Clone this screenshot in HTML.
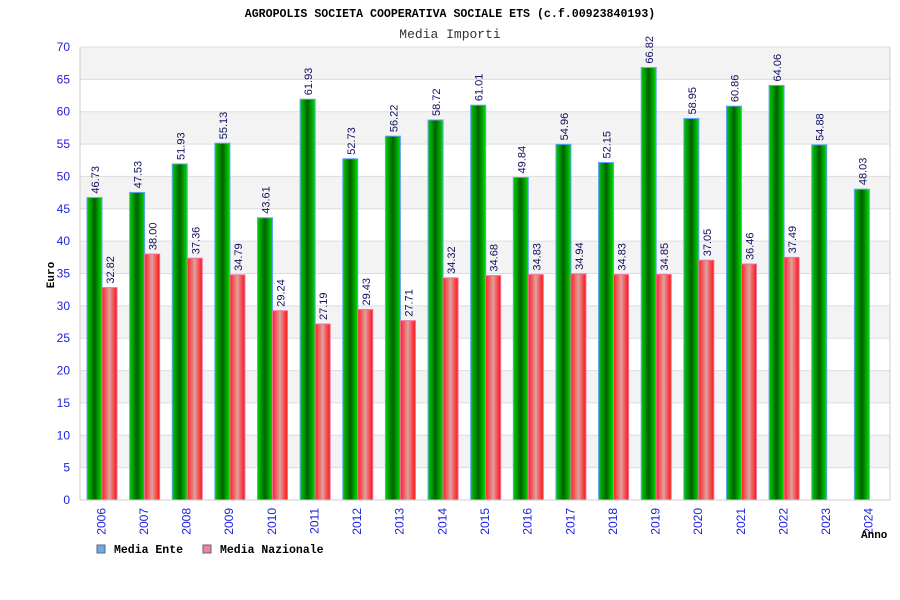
<!DOCTYPE html>
<html><head><meta charset="utf-8"><style>
body{margin:0;background:#fff;}
svg{display:block;font-family:"Liberation Sans",sans-serif;}
</style></head><body>
<svg id="chart" width="900" height="600">
<defs>
<linearGradient id="gG" x1="0" x2="1" y1="0" y2="0"><stop offset="0" stop-color="#00d000"/><stop offset="0.5" stop-color="#006000"/><stop offset="1" stop-color="#00e000"/></linearGradient>
<linearGradient id="gR" x1="0" x2="1" y1="0" y2="0"><stop offset="0" stop-color="#ff2020"/><stop offset="0.5" stop-color="#e0a0a0"/><stop offset="1" stop-color="#ff1010"/></linearGradient>
</defs>
<text x="450" y="17" text-anchor="middle" font-family="Liberation Mono, monospace" font-size="11.6" font-weight="bold">AGROPOLIS SOCIETA COOPERATIVA SOCIALE ETS (c.f.00923840193)</text>
<text x="450" y="38" text-anchor="middle" font-family="Liberation Mono, monospace" font-size="13" fill="#333">Media Importi</text>
<g id="grid"></g><g id="bars"></g><g id="axes"></g>
<text transform="translate(54,275) rotate(-90)" text-anchor="middle" font-family="Liberation Mono, monospace" font-size="11" font-weight="bold">Euro</text>
<text x="861" y="538" font-family="Liberation Mono, monospace" font-size="11" font-weight="bold">Anno</text>
<rect x="97" y="545" width="8" height="8" fill="#6aaaf0" stroke="#666"/>
<text x="114" y="553" font-family="Liberation Mono, monospace" font-size="11.5" font-weight="bold">Media Ente</text>
<rect x="203" y="545" width="8" height="8" fill="#f080b0" stroke="#666"/>
<text x="220" y="553" font-family="Liberation Mono, monospace" font-size="11.5" font-weight="bold">Media Nazionale</text>
</svg>
<script>
const categories=["2006","2007","2008","2009","2010","2011","2012","2013","2014","2015","2016","2017","2018","2019","2020","2021","2022","2023","2024"];
const enteValues=[46.73,47.53,51.93,55.13,43.61,61.93,52.73,56.22,58.72,61.01,49.84,54.96,52.15,66.82,58.95,60.86,64.06,54.88,48.03];
const nazValues=[32.82,38.00,37.36,34.79,29.24,27.19,29.43,27.71,34.32,34.68,34.83,34.94,34.83,34.85,37.05,36.46,37.49,null,null];
const yTicks=[0,5,10,15,20,25,30,35,40,45,50,55,60,65,70];
const NS="http://www.w3.org/2000/svg";
const L=80,R=890,T=47,B=500,yMax=70;
const y=v=>B-(v/yMax)*(B-T);
const gw=(R-L)/categories.length;
const x=i=>L+i*gw;
function mk(tag,attrs,parent,txt){const e=document.createElementNS(NS,tag);for(const k in attrs)e.setAttribute(k,attrs[k]);if(txt!=null)e.textContent=txt;parent.appendChild(e);return e;}
const grid=document.getElementById('grid'),bars=document.getElementById('bars'),axes=document.getElementById('axes');
for(let k=0;k<yTicks.length-1;k++){
  const r=mk('rect',{x:L,y:y(yTicks[k+1]),width:R-L,height:y(yTicks[k])-y(yTicks[k+1]),fill:(k%2)?'#f3f3f3':'#fff'},grid);
  
  
}
yTicks.forEach(t=>{
  const l=mk('line',{x1:L,x2:R,y1:y(t),y2:y(t),stroke:'#ddd'},grid);
  
  
  const tx=mk('text',{x:L-10,y:y(t)+4,'text-anchor':'end','font-size':12,fill:'#2020e0'},axes,String(t));
  
  
});
mk('line',{x1:L,x2:L,y1:T,y2:B,stroke:'#ccc'},axes);
mk('line',{x1:L,x2:R,y1:B,y2:B,stroke:'#ccc'},axes);
mk('line',{x1:R,x2:R,y1:T,y2:B,stroke:'#ccc'},axes);
categories.forEach((c,i)=>{
  const gx=x(i)+7;
  const v=enteValues[i];
  const b=mk('rect',{x:gx,y:y(v),width:15,height:B-y(v),fill:'url(#gG)',stroke:'#60a0ff','stroke-width':1},bars);
  
  
  const lt=mk('text',{transform:`translate(${gx+12},${y(v)-4}) rotate(-90)`,'font-size':11,fill:'#101060'},bars,v.toFixed(2));
  
  
  const n=nazValues[i];
  if(n!=null){
    const rx=gx+15;
    const rb=mk('rect',{x:rx,y:y(n),width:15,height:B-y(n),fill:'url(#gR)',stroke:'#f070a0','stroke-width':1},bars);
    
    
    const ln=mk('text',{transform:`translate(${rx+12},${y(n)-4}) rotate(-90)`,'font-size':11,fill:'#101060'},bars,n.toFixed(2));
    
    
  }
  const cx=x(i)+gw/2;
  const xl=mk('text',{transform:`translate(${cx+4},${B+8}) rotate(-90)`,'text-anchor':'end','font-size':12,fill:'#2020e0'},axes,c);
  
  
});
</script>
</body></html>
